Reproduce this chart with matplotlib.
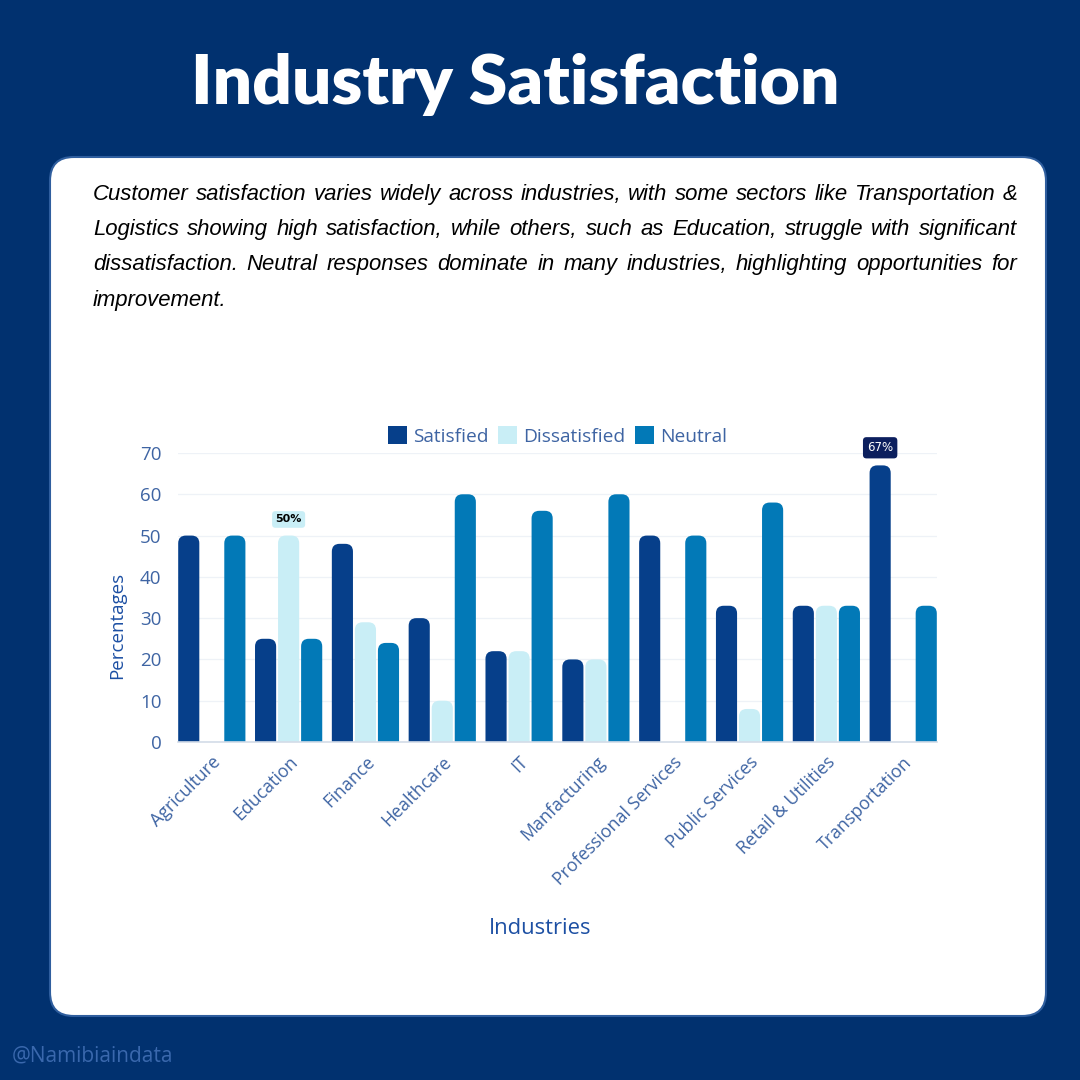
import numpy as np
import matplotlib.pyplot as plt
from matplotlib.patches import FancyBboxPatch, Patch

# Data
industries = ['Agriculture', 'Education', 'Finance', 'Healthcare', 'IT', 'Manfacturing',
              'Professional Services', 'Public Services', 'Retail & Utilities', 'Transportation']
satisfied = [50, 25, 48, 30, 22, 20, 50, 33, 33, 67]
dissatisfied = [0, 50, 29, 10, 22, 20, 0, 8, 33, 0]
neutral = [50, 25, 24, 60, 56, 60, 50, 58, 33, 33]
series_names = ['Satisfied', 'Dissatisfied', 'Neutral']
y_ticks = [0, 10, 20, 30, 40, 50, 60, 70]

paragraph = [
    'Customer satisfaction varies widely across industries, with some sectors like Transportation &',
    'Logistics showing high satisfaction, while others, such as Education, struggle with significant',
    'dissatisfaction. Neutral responses dominate in many industries, highlighting opportunities for',
    'improvement.',
]

# colours
bg = '#01316f'
c_sat = '#063f8a'
c_dis = '#c9eef6'
c_neu = '#0279b7'
tick_col = '#3e64a3'
label_col = '#1c4fa3'
sans = 'Open Sans'

W = 1080
fig = plt.figure(figsize=(10.8, 10.8), dpi=100)
fig.patch.set_facecolor(bg)


def fx(px):
    return px / W


def fy(py):
    return 1 - py / W


# white card
card = FancyBboxPatch((fx(50), fy(1016)), fx(1046) - fx(50), fy(157) - fy(1016),
                      boxstyle='round,pad=0,rounding_size=0.022',
                      transform=fig.transFigure, fc='white', ec='#2f5e9e', lw=1.5, zorder=-1)
fig.patches.append(card)

# title
fig.text(fx(515), fy(85), 'Industry Satisfaction', color='white', fontsize=50,
         fontfamily='Lato', fontweight='heavy', ha='center', va='center')

# justified paragraph (font size chosen so the longest line just fits)
renderer = fig.canvas.get_renderer()
left, right = 93, 1017
t = fig.text(0, 0, paragraph[1], fontsize=10, fontfamily='Liberation Sans', fontstyle='italic')
fs = 10 * (right - left - 16) / t.get_window_extent(renderer).width
t.remove()
for i, line in enumerate(paragraph):
    words = line.split(' ')
    ypos = fy(200 + i * 35.2)
    kw = dict(fontsize=fs, fontfamily='Liberation Sans', fontstyle='italic',
              color='black', va='baseline', ha='left')
    if i == len(paragraph) - 1:
        fig.text(fx(left), ypos, line, **kw)
        continue
    widths = []
    for w in words:
        t = fig.text(0, 0, w, **kw)
        widths.append(t.get_window_extent(renderer).width)
        t.remove()
    gap = (right - left - sum(widths)) / (len(words) - 1)
    xpos = left
    for w, wd in zip(words, widths):
        fig.text(fx(xpos), ypos, w, **kw)
        xpos += wd + gap

# chart axes
ax = fig.add_axes([fx(178), fy(742), fx(937) - fx(178), fy(453) - fy(742)])
ax.set_facecolor('none')
x = np.arange(len(industries))
width = 0.275
step = 0.3
ax.set_xlim(-0.44, len(industries) - 1 + 0.44)
ax.set_ylim(0, 70)

# pixels per data unit, used to keep the corners round
px_x = (937 - 178) / (ax.get_xlim()[1] - ax.get_xlim()[0])
px_y = (742 - 453) / 70
aspect = px_x / px_y

series = [satisfied, dissatisfied, neutral]
colors = [c_sat, c_dis, c_neu]
for k, (vals, col) in enumerate(zip(series, colors)):
    bars = ax.bar(x + (k - 1) * step, vals, width, color=col)
    for rect in bars:
        rect.set_visible(False)
        h = rect.get_height()
        if h <= 0:
            continue
        p = FancyBboxPatch((rect.get_x(), -5), rect.get_width(), h + 5,
                           boxstyle='round,pad=0,rounding_size=0.1',
                           mutation_aspect=aspect, fc=col, ec='none', zorder=3)
        ax.add_patch(p)
        p.set_clip_path(ax.patch)

# grid and axis styling
ax.set_yticks(y_ticks)
ax.yaxis.grid(True, color='#eef2f7', lw=0.9, zorder=0)
ax.set_axisbelow(True)
for s in ['top', 'right', 'left']:
    ax.spines[s].set_visible(False)
ax.spines['bottom'].set_color('#d3dce8')
ax.spines['bottom'].set_linewidth(1.2)
ax.spines['bottom'].set_zorder(5)
ax.tick_params(axis='both', length=0, colors=tick_col)
ax.tick_params(axis='y', pad=12, labelsize=13.5)
ax.tick_params(axis='x', pad=8, labelsize=12.8)
ax.set_xticks(x)
ax.set_xticklabels(industries, rotation=45, ha='right', rotation_mode='anchor',
                   fontfamily=sans)
for lab in ax.get_yticklabels():
    lab.set_fontfamily(sans)

# labels
fig.text(fx(117), fy(625), 'Percentages', rotation=90, color=label_col, fontsize=13.5,
         fontfamily=sans, ha='center', va='center')
fig.text(fx(540), fy(928), 'Industries', color=label_col, fontsize=15.8,
         fontfamily=sans, ha='center', va='center')

# legend
handles = [Patch(fc=c, ec='none') for c in colors]
ax.legend(handles, series_names, loc='center', bbox_to_anchor=(0.5, 1.0 + 17 / 289),
          ncol=3, frameon=False, handlelength=1.0, handleheight=1.0,
          handletextpad=0.3, columnspacing=0.5,
          labelcolor=tick_col, prop={'family': sans, 'size': 13.8})

# value callouts
ax.annotate('50%', (x[1], dissatisfied[1]), xytext=(0, 8), textcoords='offset points',
            ha='center', va='bottom', fontsize=8, fontweight='bold', color='black',
            bbox=dict(boxstyle='round,pad=0.3,rounding_size=0.3', fc=c_dis, ec='none'),
            zorder=6)
ax.annotate('67%', (x[9] - step, satisfied[9]), xytext=(0, 8), textcoords='offset points',
            ha='center', va='bottom', fontsize=8.5, color='white', annotation_clip=False,
            bbox=dict(boxstyle='round,pad=0.35,rounding_size=0.3', fc='#0c1f5e', ec='none'),
            zorder=6)

# watermark
fig.text(fx(12), fy(1056), '@Namibiaindata', color='#3a68ad', fontsize=15,
         fontfamily=sans, ha='left', va='center')

plt.savefig('out.png', dpi=100, facecolor=bg)
